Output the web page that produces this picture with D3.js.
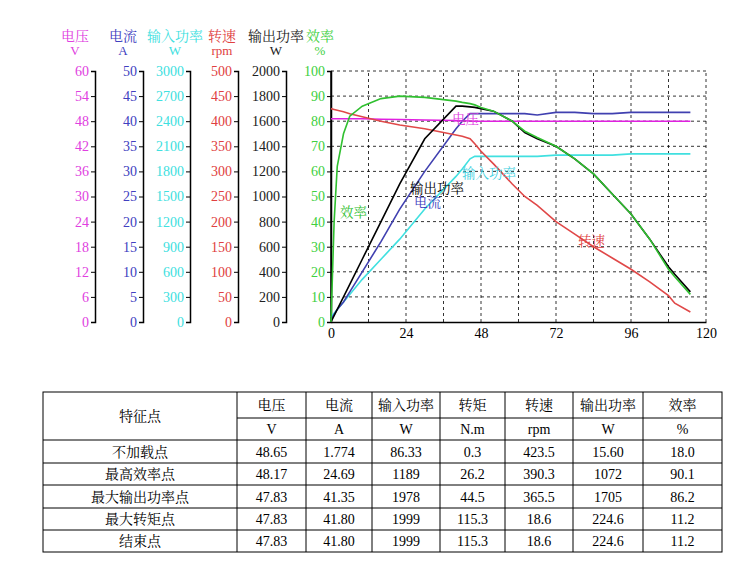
<!DOCTYPE html>
<html><head><meta charset="utf-8">
<script src="https://cdn.jsdelivr.net/npm/d3@7"></script>
<style>body{margin:0;background:#fff}svg{font-family:"Liberation Serif","Noto Serif CJK SC","Noto Sans CJK SC",serif}</style>
</head><body><svg width="750" height="576"></svg>
<script>
const torque = [0,1,2,4,6,10,16,22,30,40,42,44.5,46,48,52,58,62,66,72,78,84,90,96,102,108,110,115];
const effPct = [0,40,62,75,82,86,89,90,89.5,88,87.5,87,86.5,85.5,84,80,76,73.5,70,65,59,51,43,33,21,18,11];
const outPct = [0,2.5,5,10,15,25,40,55,73,86,86,85.7,85.5,85,84,80,75.5,73,70,65,59,51,43,33,22,19,12];
const curPct = [1,3,5,8,12,20,32,45,60,77,80,83,83,83,83,83,83,82.5,83.5,83.5,83,83,83.5,83.5,83.5,83.5,83.5];
const inPct  = [2,3.5,5,8,11,17,25,33,45,58,61,65,66,66,66,66,66,66,66.5,66.5,66.5,66.5,67,67,67,67,67];
const voltPct= [81,81,81,81,81,81,80.8,80.7,80.5,80.3,80.2,80.1,80,80,80,80,80,80,80,80,80,80,80,80,80,80,80];
const speedPct=[85,84.7,84.4,83.8,83,81.8,80,78.5,77,74.5,74,73,71,68,63,55,50,46.5,40,35,30,25.5,21,16,10.5,7.5,4];
const xTicks=[0,24,48,72,96,120];
const axes=[
 {name:"电压",unit:"V",color:"#e040e0",max:60,step:6},
 {name:"电流",unit:"A",color:"#4040c0",max:50,step:5},
 {name:"输入功率",unit:"W",color:"#40e0e0",max:3000,step:300},
 {name:"转速",unit:"rpm",color:"#e04040",max:500,step:50},
 {name:"输出功率",unit:"W",color:"#202020",max:2000,step:200},
 {name:"效率",unit:"%",color:"#40d040",max:100,step:10}
];
const axisX=[95,143,190,238,286,331];
const nameX=[75,123,175,222,276,320];
const tableHead=["电压","电流","输入功率","转矩","转速","输出功率","效率"];
const tableUnit=["V","A","W","N.m","rpm","W","%"];
const rowNames=["不加载点","最高效率点","最大输出功率点","最大转矩点","结束点"];
const rowVals=[
 ["48.65","1.774","86.33","0.3","423.5","15.60","18.0"],
 ["48.17","24.69","1189","26.2","390.3","1072","90.1"],
 ["47.83","41.35","1978","44.5","365.5","1705","86.2"],
 ["47.83","41.80","1999","115.3","18.6","224.6","11.2"],
 ["47.83","41.80","1999","115.3","18.6","224.6","11.2"]];

const svg=d3.select("svg");
const x=d3.scaleLinear().domain([0,120]).range([331,706]);
const y=d3.scaleLinear().domain([0,100]).range([322,71]);
const g=svg.append("g");
d3.range(12,121,12).forEach(v=>g.append("line").attr("x1",x(v)).attr("x2",x(v)).attr("y1",y(0)).attr("y2",y(100)).attr("stroke","#000").attr("stroke-dasharray","3,3").attr("stroke-width",0.8));
d3.range(10,101,10).forEach(v=>g.append("line").attr("x1",x(0)).attr("x2",x(120)).attr("y1",y(v)).attr("y2",y(v)).attr("stroke","#000").attr("stroke-dasharray","3,3").attr("stroke-width",0.8));
axes.forEach((a,i)=>{
  const s=d3.scaleLinear().domain([0,a.max]).range([322,71]);
  const ax=svg.append("g").attr("transform",`translate(${axisX[i]},0)`).call(d3.axisLeft(s).tickValues(d3.range(0,a.max+1,a.step)).tickSize(4).tickPadding(2).tickFormat(d3.format("d")));
  ax.select(".domain").attr("stroke","#000").attr("stroke-width",1.5);
  ax.selectAll(".tick text").attr("fill",a.color).attr("font-size",14).attr("font-family","Liberation Serif");
  ax.selectAll(".tick line").attr("stroke","#000");
  svg.append("text").attr("x",nameX[i]).attr("y",41).attr("text-anchor","middle").attr("fill",a.color).attr("font-size",14).text(a.name);
  svg.append("text").attr("x",nameX[i]).attr("y",55).attr("text-anchor","middle").attr("fill",a.color).attr("font-size",13).text(a.unit);
});
const xa=svg.append("g").attr("transform","translate(0,322)").call(d3.axisBottom(x).tickValues(xTicks).tickSize(0).tickPadding(6));
xa.select(".domain").attr("stroke","#000").attr("stroke-width",1.5);
xa.selectAll("text").attr("font-size",14).attr("fill","#000").attr("font-family","Liberation Serif");
svg.append("line").attr("x1",x(0)).attr("x2",x(0)).attr("y1",y(0)).attr("y2",y(100)).attr("stroke","#000").attr("stroke-width",1.5);
const line=d3.line().x((d,i)=>x(torque[i])).y(d=>y(d));
[[voltPct,"#e020e0"],[inPct,"#40e0e0"],[curPct,"#4040b0"],[speedPct,"#e04848"],[outPct,"#000"],[effPct,"#30c030"]].forEach(([d,c])=>
 svg.append("path").datum(d).attr("d",line).attr("fill","none").attr("stroke",c).attr("stroke-width",1.6));
[["电压",452,124,"#e040e0"],["输入功率",462,178,"#40d0e0"],["输出功率",410,193,"#000"],["电流",414,207,"#4040c0"],["效率",340,217,"#30c030"],["转速",578,246,"#e04040"]].forEach(([t,a,b,c])=>
 svg.append("text").attr("x",a).attr("y",b).attr("fill",c).attr("font-size",13.5).text(t));
const colX=[43,237,306,372,440,505,573,643,722];
const rowY=[392,418,440,463,485,508,530,552];
const tg=svg.append("g").attr("font-size",14).attr("text-anchor","middle");
tg.append("rect").attr("x",43).attr("y",392).attr("width",679).attr("height",160).attr("fill","none").attr("stroke","#000");
colX.slice(1,-1).forEach(cx=>tg.append("line").attr("x1",cx).attr("x2",cx).attr("y1",392).attr("y2",552).attr("stroke","#000"));
tg.append("line").attr("x1",237).attr("x2",722).attr("y1",418).attr("y2",418).attr("stroke","#000");
rowY.slice(2,-1).forEach(ry=>tg.append("line").attr("x1",43).attr("x2",722).attr("y1",ry).attr("y2",ry).attr("stroke","#000"));
tg.append("text").attr("x",140).attr("y",421).text("特征点");
tableHead.forEach((h,i)=>{
  const cx=(colX[i+1]+colX[i+2])/2;
  tg.append("text").attr("x",cx).attr("y",410).text(h);
  tg.append("text").attr("x",cx).attr("y",434).text(tableUnit[i]);
});
rowNames.forEach((r,j)=>{
  const cy=(rowY[j+2]+rowY[j+3])/2+5;
  tg.append("text").attr("x",140).attr("y",cy).text(r);
  rowVals[j].forEach((v,i)=>tg.append("text").attr("x",(colX[i+1]+colX[i+2])/2).attr("y",cy).text(v));
});
</script></body></html>
